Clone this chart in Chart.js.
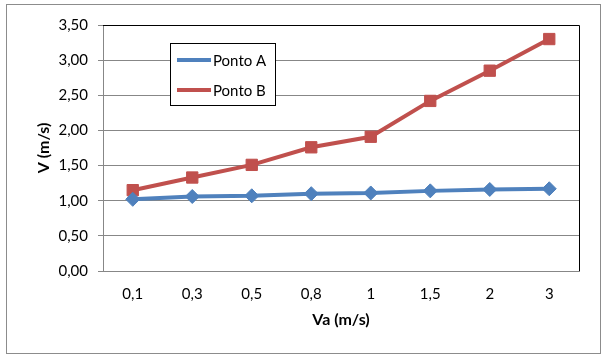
<!DOCTYPE html>
<html><head><meta charset="utf-8">
<script src="https://cdn.jsdelivr.net/npm/chart.js@4.4.1/dist/chart.umd.min.js"></script>
<style>html,body{margin:0;padding:0;background:#fff}#wrap{width:606px;height:360px;position:relative}</style>
</head><body><div id="wrap"><canvas id="c" width="606" height="360"></canvas></div>
<script>
const categories = ['0,1', '0,3', '0,5', '0,8', '1', '1,5', '2', '3'];
const pontoA = [1.02, 1.06, 1.07, 1.10, 1.11, 1.14, 1.16, 1.17];
const pontoB = [1.15, 1.33, 1.51, 1.76, 1.91, 2.42, 2.85, 3.30];
const seriesNames = ['Ponto A', 'Ponto B'];
const yMin = 0, yMax = 3.5, yStep = 0.5;
const xTitle = 'Va (m/s)';
const yTitle = 'V (m/s)';

const BLUE = '#4F81BD', RED = '#C0504D', GRID = '#878787';
const FONT = 'Lato, "Open Sans", sans-serif';

const framePlugin = {
  id: 'frame',
  beforeDraw(chart) {
    const ctx = chart.ctx;
    ctx.save();
    ctx.fillStyle = '#fff';
    ctx.fillRect(0, 0, chart.width, chart.height);
    ctx.strokeStyle = '#8c8c8c';
    ctx.lineWidth = 1;
    ctx.strokeRect(6.5, 4.5, 594, 349);
    ctx.restore();
  },
  beforeDatasetsDraw(chart) {
    const ctx = chart.ctx, a = chart.chartArea;
    ctx.save();
    ctx.strokeStyle = '#000';
    ctx.lineWidth = 1;
    ctx.beginPath();
    ctx.moveTo(Math.round(a.left) , Math.round(a.top) + 0.5);
    ctx.lineTo(Math.round(a.right) + 0.5, Math.round(a.top) + 0.5);
    ctx.lineTo(Math.round(a.right) + 0.5, Math.round(a.bottom));
    ctx.stroke();
    ctx.restore();
  },
  afterDraw(chart) {
    const ctx = chart.ctx;
    const bx = 170.5, by = 43.5, bw = 105, bh = 62;
    ctx.save();
    ctx.fillStyle = '#fff';
    ctx.fillRect(bx, by, bw, bh);
    ctx.strokeStyle = '#000';
    ctx.lineWidth = 1;
    ctx.strokeRect(bx, by, bw, bh);
    chart.data.datasets.forEach((ds, i) => {
      const cy = 60 + i * 30;
      ctx.strokeStyle = ds.borderColor;
      ctx.lineWidth = 4;
      ctx.beginPath();
      ctx.moveTo(177, cy);
      ctx.lineTo(211, cy);
      ctx.stroke();
      ctx.fillStyle = ds.pointBackgroundColor;
      ctx.strokeStyle = ds.pointBorderColor;
      ctx.lineWidth = 1;
      Chart.helpers.drawPoint(ctx, {pointStyle: ds.pointStyle, rotation: 0, borderWidth: 1}, 194, cy, ds.pointRadius);
      ctx.fillStyle = '#000';
      ctx.font = '15px ' + FONT;
      ctx.textBaseline = 'middle';
      ctx.textAlign = 'left';
      ctx.fillText(ds.label, 213, cy + 1);
    });
    ctx.restore();
  }
};

new Chart(document.getElementById('c'), {
  type: 'line',
  data: {
    labels: categories,
    datasets: [
      { label: seriesNames[0], data: pontoA, borderColor: BLUE, backgroundColor: BLUE,
        pointBackgroundColor: BLUE, pointBorderColor: BLUE, borderWidth: 4,
        pointStyle: 'rectRot', pointRadius: 7, pointBorderWidth: 1, tension: 0 },
      { label: seriesNames[1], data: pontoB, borderColor: RED, backgroundColor: RED,
        pointBackgroundColor: RED, pointBorderColor: RED, borderWidth: 4,
        pointStyle: 'rect', pointRadius: 8, pointBorderWidth: 1, tension: 0 }
    ]
  },
  options: {
    responsive: false, animation: false, devicePixelRatio: 1,
    layout: { padding: { left: 34, right: 27, top: 25, bottom: 31 } },
    plugins: { legend: { display: false }, tooltip: { enabled: false } },
    scales: {
      x: {
        offset: true,
        grid: { display: false, drawTicks: false },
        border: { display: true, color: GRID, width: 1 },
        ticks: { color: '#000', font: { family: FONT, size: 15 }, padding: 14, maxRotation: 0 },
        title: { display: true, text: xTitle, color: '#000', font: { family: FONT, size: 16, weight: 'bold' }, padding: 0 },
        afterFit(s) { s.height = 58; }
      },
      y: {
        min: yMin, max: yMax,
        grid: { color: GRID, lineWidth: 1, tickLength: 5, drawTicks: true },
        border: { display: true, color: GRID, width: 1 },
        ticks: { stepSize: yStep, color: '#000', font: { family: FONT, size: 15 }, padding: 10,
          callback: v => v.toFixed(2).replace('.', ',') },
        title: { display: true, text: yTitle, color: '#000', font: { family: FONT, size: 16, weight: 'bold' }, padding: 0 },
        afterFit(s) { s.width = 69; }
      }
    }
  },
  plugins: [framePlugin]
});
</script>
</body></html>
